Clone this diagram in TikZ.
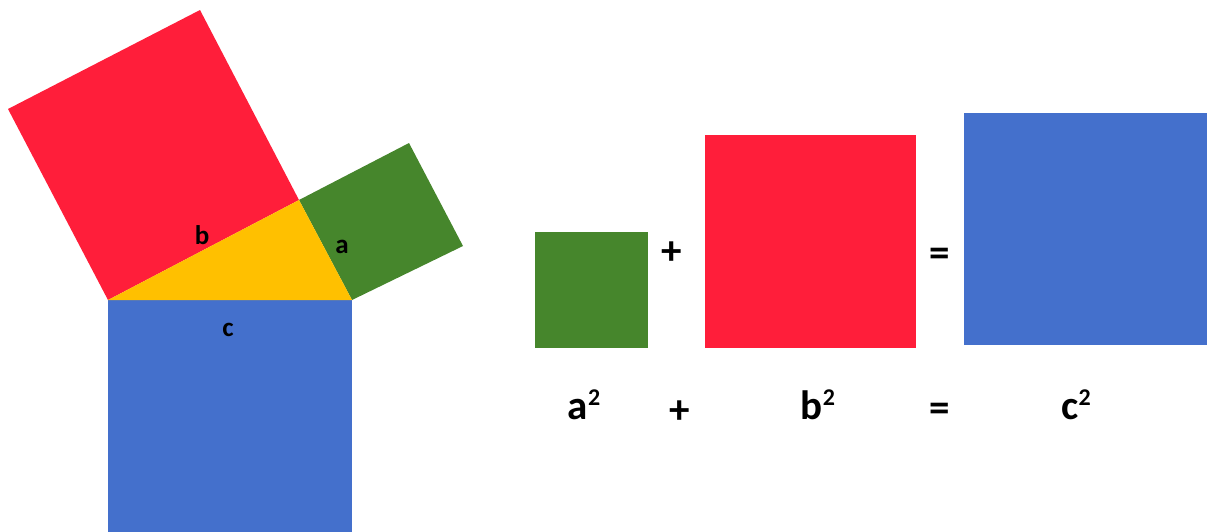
\documentclass[tikz,border=0pt]{standalone}
\usepackage{fontspec}
\setmainfont{Carlito}
\definecolor{sqred}{RGB}{255,30,58}
\definecolor{sqgreen}{RGB}{70,134,44}
\definecolor{sqyellow}{RGB}{255,192,0}
\definecolor{sqblue}{RGB}{68,112,204}
\newcommand{\sqtwo}{\raisebox{14pt}{\bfseries\fontsize{24}{24}\selectfont 2}}
\tikzset{
  small/.style={inner sep=0pt,font=\fontsize{27}{27}\selectfont\bfseries,anchor=base},
  big/.style={inner sep=0pt,font=\fontsize{41}{41}\selectfont\bfseries,anchor=base},
}
\begin{document}
\begin{tikzpicture}[x=1pt,y=-1pt]
\useasboundingbox (0,0) rectangle (1207,531);
\clip (0,0) rectangle (1207,531);
% left figure
\coordinate (A) at (108,300);
\coordinate (B) at (352,300);
\coordinate (C) at (299,200);
\fill[sqblue] (A) rectangle (352,544);
\fill[sqred] (A) -- (C) -- (200,10) -- (8,109) -- cycle;
\fill[sqgreen] (C) -- (B) -- (463,246) -- (409,143) -- cycle;
\fill[sqyellow] (A) -- (B) -- (C) -- cycle;
\node[small] (lb) at (202,244) {b};
\node[small] (la) at (342,253) {a};
\node[small] (lc) at (228,336) {c};
% right figure
\fill[sqgreen] (535,232) rectangle (648,348);
\fill[sqred] (705,135) rectangle (916,348);
\fill[sqblue] (964,113) rectangle (1207,345);
\node[big] (p1) at (672,264) {+};
\node[big] (e1) at (940,266) {=};
% equation
\node[big] (ea) at (584,419) {a\sqtwo};
\node[big] (ep) at (680,423) {+};
\node[big] (eb) at (818,419) {b\sqtwo};
\node[big] (ee) at (940,421) {=};
\node[big] (ec) at (1076,419) {c\sqtwo};
\end{tikzpicture}
\end{document}
